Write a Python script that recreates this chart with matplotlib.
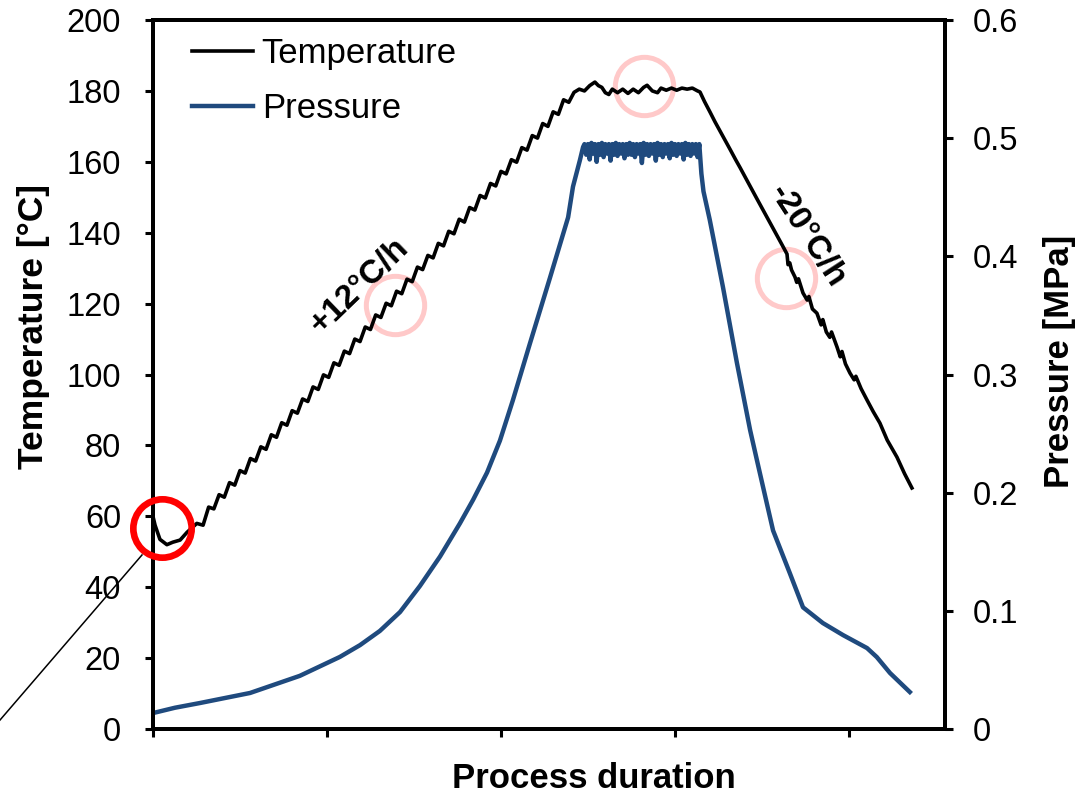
import numpy as np
import matplotlib
matplotlib.use("Agg")
import matplotlib.pyplot as plt
from matplotlib.lines import Line2D

plt.rcParams['font.family'] = ['Liberation Sans', 'DejaVu Sans']

# process time (arbitrary units, tick every 5) and temperature [°C]
time_temp = [0.0, 0.06, 0.2, 0.4, 0.57, 0.78, 0.98, 1.26, 1.44,
             1.60, 1.75, 1.90, 2.05, 2.20, 2.35, 2.50, 2.65, 2.80, 2.95,
             3.10, 3.25, 3.40, 3.55, 3.70, 3.85, 4.00, 4.15, 4.30, 4.45,
             4.60, 4.75, 4.90, 5.05, 5.20, 5.35, 5.50, 5.65, 5.80, 5.95,
             6.10, 6.25, 6.40, 6.55, 6.70, 6.85, 7.00, 7.15, 7.30, 7.45,
             7.60, 7.75, 7.90, 8.05, 8.20, 8.35, 8.50, 8.65, 8.80, 8.95,
             9.10, 9.25, 9.40, 9.55, 9.70, 9.85, 10.00, 10.15, 10.30, 10.45,
             10.60, 10.75, 10.90, 11.05, 11.20, 11.35, 11.50, 11.65, 11.80, 11.95,
             12.10, 12.25, 12.40, 12.55, 12.70, 12.80, 12.90, 13.00, 13.10, 13.20,
             13.35, 13.50, 13.65, 13.80, 13.95, 14.10, 14.20, 14.35, 14.50, 14.60,
             14.75, 14.90, 15.05, 15.20, 15.35, 15.50, 15.65, 15.72,
             15.85, 16.01, 16.15, 16.29, 16.45, 16.58, 16.75, 16.87, 17.10, 17.36,
             17.60, 17.82, 18.05, 18.22, 18.25, 18.30, 18.35, 18.45, 18.50, 18.55,
             18.68, 18.80, 18.85, 18.95, 19.08, 19.20, 19.25, 19.35, 19.45, 19.50,
             19.66, 19.75, 19.80, 19.90, 20.03, 20.15, 20.20, 20.35, 20.52, 20.70,
             20.89, 21.10, 21.38, 21.60, 21.81]
temperature = [60.0, 57.5, 53.5, 52.0, 52.7, 53.3, 55.5, 58.0, 57.5,
               62.6, 62.1, 66.1, 65.4, 69.5, 68.8, 72.9, 72.2, 76.3, 75.6,
               79.6, 78.9, 83.0, 82.3, 86.4, 85.7, 89.8, 89.1, 93.1, 92.4,
               96.5, 95.8, 99.9, 99.2, 103.3, 102.6, 106.6, 105.9, 110.0, 109.3,
               113.4, 112.7, 116.8, 116.1, 120.1, 119.4, 123.5, 122.8, 126.9, 126.2,
               130.3, 129.6, 133.6, 132.9, 137.0, 136.3, 140.4, 139.7, 143.8, 143.0,
               147.1, 146.4, 150.5, 149.8, 153.9, 153.2, 157.3, 156.6, 160.6, 159.9,
               164.0, 163.3, 167.4, 166.7, 170.8, 170.0, 174.1, 173.4, 177.5, 176.8,
               179.6, 180.5, 180.0, 181.5, 182.5, 181.5, 181.0, 179.5, 179.0, 180.5,
               179.5, 180.5, 179.3, 180.5, 179.5, 181.0, 181.6, 180.0, 179.5, 180.8,
               180.2, 180.8, 180.2, 180.8, 180.5, 180.8, 180.0, 179.7,
               177.0, 174.0, 171.3, 168.8, 165.9, 163.6, 160.5, 158.4, 154.2, 149.5,
               145.2, 141.2, 137.1, 134.0, 131.0, 131.5, 129.5, 127.5, 126.0, 127.0,
               123.0, 121.0, 122.0, 118.5, 117.3, 114.0, 115.5, 112.0, 110.5, 112.0,
               107.7, 105.0, 106.5, 103.0, 100.4, 98.5, 99.5, 96.0, 92.8, 89.5,
               86.3, 81.5, 76.7, 72.0, 68.0]

# process time and pressure [MPa]
time_pres = [0.0, 0.63, 1.35, 2.79, 4.22, 5.37, 5.95, 6.52, 7.10, 7.67, 8.25,
             8.82, 9.20, 9.60, 9.97, 10.34, 10.83, 11.41, 11.93, 12.07, 12.27, 12.36,
             12.40, 12.45, 12.50, 12.55, 12.60, 12.65, 12.70, 12.75, 12.80, 12.85,
             12.90, 12.95, 13.00, 13.05, 13.10, 13.15, 13.20, 13.25, 13.30, 13.35,
             13.40, 13.45, 13.50, 13.55, 13.60, 13.65, 13.70, 13.75, 13.80, 13.85,
             13.90, 13.95, 14.00, 14.05, 14.10, 14.15, 14.20, 14.25, 14.30, 14.35,
             14.40, 14.45, 14.50, 14.55, 14.60, 14.65, 14.70, 14.75, 14.80, 14.85,
             14.90, 14.95, 15.00, 15.05, 15.10, 15.15, 15.20, 15.25, 15.30, 15.35,
             15.40, 15.45, 15.50, 15.55, 15.60, 15.65, 15.70,
             15.76, 15.82, 16.00, 16.38, 16.78, 17.16, 17.36, 17.64, 17.82, 18.30,
             18.68, 19.25, 19.83, 20.52, 20.80, 21.18, 21.75]
pressure = [0.0135, 0.018, 0.022, 0.0305, 0.045, 0.061, 0.071, 0.083, 0.099, 0.121, 0.146,
            0.174, 0.194, 0.217, 0.244, 0.278, 0.326, 0.382, 0.433, 0.459, 0.4815, 0.4925,
            0.495, 0.486, 0.495, 0.482, 0.496, 0.487, 0.495, 0.480, 0.495, 0.486,
            0.496, 0.484, 0.495, 0.487, 0.495, 0.481, 0.495, 0.486, 0.496, 0.485,
            0.495, 0.487, 0.495, 0.483, 0.495, 0.486, 0.496, 0.486, 0.495, 0.484,
            0.495, 0.487, 0.495, 0.479, 0.496, 0.486, 0.495, 0.485, 0.495, 0.487,
            0.495, 0.481, 0.496, 0.486, 0.495, 0.484, 0.495, 0.487, 0.495, 0.483,
            0.496, 0.486, 0.495, 0.485, 0.495, 0.487, 0.495, 0.482, 0.496, 0.486,
            0.495, 0.485, 0.495, 0.487, 0.495, 0.484, 0.495,
            0.470, 0.455, 0.431, 0.374, 0.310, 0.253, 0.227, 0.191, 0.168, 0.132,
            0.103, 0.0897, 0.0795, 0.0685, 0.0609, 0.0474, 0.0313]

temp_ticks = [0, 20, 40, 60, 80, 100, 120, 140, 160, 180, 200]
pres_ticks = [0, 0.1, 0.2, 0.3, 0.4, 0.5, 0.6]
pres_labels = ['0', '0.1', '0.2', '0.3', '0.4', '0.5', '0.6']
time_ticks = [0, 5, 10, 15, 20]

blue = '#1F4A7E'

fig = plt.figure(figsize=(10.78, 7.95), dpi=100)
ax = fig.add_axes([0.1419, 0.083, 0.8766 - 0.1419, 0.9748 - 0.083])
ax2 = ax.twinx()

l1, = ax.plot(time_temp, temperature, color='black', lw=2.6, zorder=3, label='Temperature')
l2, = ax2.plot(time_pres, pressure, color=blue, lw=3.2, label='Pressure')

ax.set_xlim(0, 22.76)
ax.set_ylim(0, 200)
ax2.set_ylim(0, 0.6)
ax.set_yticks(temp_ticks)
ax.set_yticklabels([str(t) for t in temp_ticks])
ax2.set_yticks(pres_ticks)
ax2.set_yticklabels(pres_labels)
ax.set_xticks(time_ticks)
ax.set_xticklabels([])

for a in (ax, ax2):
    for s in a.spines.values():
        s.set_linewidth(2.8)
        s.set_color('black')
ax.tick_params(axis='y', direction='out', length=6, width=2.2, labelsize=23.5, pad=17)
ax.tick_params(axis='x', direction='out', length=6, width=2.2)
ax2.tick_params(axis='y', direction='out', length=6, width=2.2, labelsize=23.5, pad=14)

ax.set_ylabel('Temperature [°C]', fontsize=25.5, fontweight='bold')
ax.yaxis.set_label_coords(-0.130, 0.568)
ax2.set_ylabel('Pressure [MPa]', fontsize=25, fontweight='bold', rotation=90)
ax2.yaxis.set_label_coords(1.124, 0.519)
ax.set_xlabel('Process duration', fontsize=25, fontweight='bold')
ax.xaxis.set_label_coords(0.557, -0.0465)

# highlight circles
ax.plot([6.95, 14.11, 18.19], [119.6, 181.4, 127.2], 'o', ms=42, mfc='none',
        mec='#FFC9C9', mew=3.6, zorder=2)
ax2.plot([0.27], [56.7 * 0.003], 'o', ms=42, mfc='none', mec='red', mew=4.8,
         zorder=5, clip_on=False)
fig.add_artist(Line2D([0, 0.1317], [0.0943, 0.3019], transform=fig.transFigure,
                      color='black', lw=1.1))

ax.text(5.95, 125.0, '+12°C/h', rotation=44, fontsize=24, fontweight='bold',
        ha='center', va='center', rotation_mode='anchor')
ax.text(18.8, 139.0, '-20°C/h', rotation=-57, fontsize=24, fontweight='bold',
        ha='center', va='center', rotation_mode='anchor')

ax2.legend(handles=[l1, l2], loc='upper left', bbox_to_anchor=(0.178, 0.953),
           bbox_transform=fig.transFigure, frameon=False, fontsize=25,
           handlelength=1.75, handletextpad=0.26, labelspacing=0.62,
           borderpad=0, borderaxespad=0)

fig.savefig('out.png', dpi=100)
